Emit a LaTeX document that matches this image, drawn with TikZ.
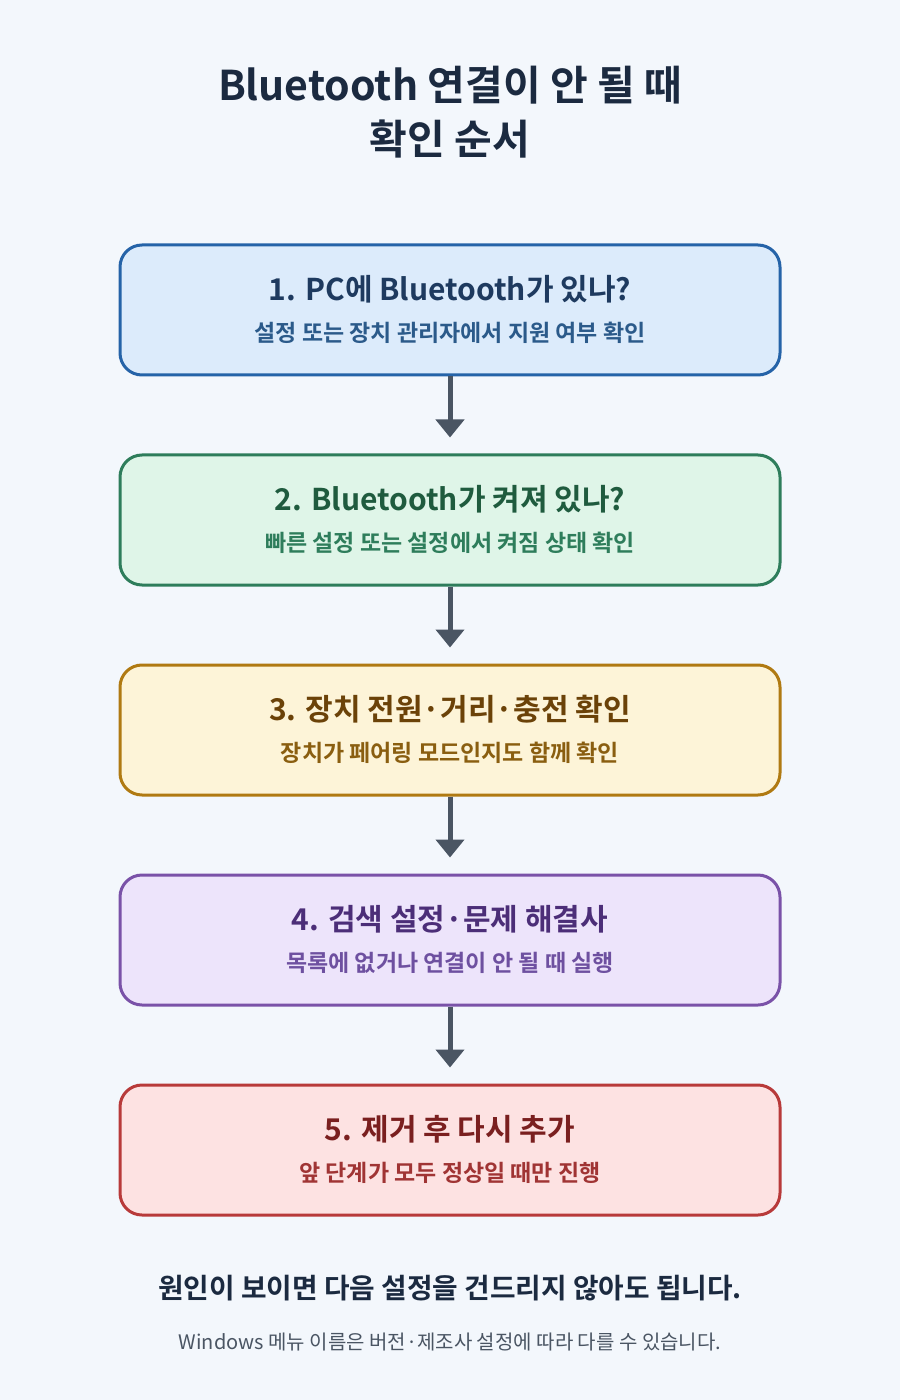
\documentclass[tikz,border=0pt]{standalone}
\usepackage{fontspec}
\setmainfont{Noto Sans CJK KR}[BoldFont={Noto Sans CJK KR Bold}]
\usetikzlibrary{arrows.meta}
\definecolor{bg}{HTML}{F3F7FC}
\definecolor{ttl}{HTML}{1B2A40}
\definecolor{arr}{HTML}{4A5563}
\definecolor{fa}{HTML}{DCEBFB}\definecolor{ba}{HTML}{2563A8}\definecolor{ta}{HTML}{1E3A5F}\definecolor{sa}{HTML}{2B5A8A}
\definecolor{fb}{HTML}{DFF5E8}\definecolor{bb}{HTML}{2E7D5B}\definecolor{tb}{HTML}{1F5B3E}\definecolor{sb}{HTML}{2E7D5B}
\definecolor{fc}{HTML}{FDF4D8}\definecolor{bc}{HTML}{B07A12}\definecolor{tc}{HTML}{6B4208}\definecolor{sc}{HTML}{8A5E10}
\definecolor{fd}{HTML}{EDE4FB}\definecolor{bd}{HTML}{7A52A8}\definecolor{td}{HTML}{4C2E78}\definecolor{sd}{HTML}{6E50A0}
\definecolor{fe}{HTML}{FDE2E2}\definecolor{be}{HTML}{B83A3A}\definecolor{te}{HTML}{7A1F1F}\definecolor{se}{HTML}{A03434}
\begin{document}
\begin{tikzpicture}[x=0.5pt,y=-0.5pt,
  box/.style={draw, line width=1.5pt, rounded corners=11pt, minimum width=330pt, minimum height=65pt},
  ttxt/.style={font=\bfseries\fontsize{15}{17}\selectfont},
  stxt/.style={font=\bfseries\fontsize{11.5}{13}\selectfont},
  link/.style={draw=arr, line width=2.5pt, shorten >=8pt, -{Triangle[length=9pt,width=14pt]}}]
\fill[bg] (0,0) rectangle (900,1400);
\node[ttl, font=\bfseries\fontsize{20.5}{27}\selectfont, align=center] (title) at (450,112) {Bluetooth 연결이 안 될 때\\확인 순서};
\foreach \i/\y/\f/\b/\t/\s/\T/\S in {
 a/310/fa/ba/ta/sa/{1. PC에 Bluetooth가 있나?}/{설정 또는 장치 관리자에서 지원 여부 확인},
 b/520/fb/bb/tb/sb/{2. Bluetooth가 켜져 있나?}/{빠른 설정 또는 설정에서 켜짐 상태 확인},
 c/730/fc/bc/tc/sc/{3. 장치 전원·거리·충전 확인}/{장치가 페어링 모드인지도 함께 확인},
 d/940/fd/bd/td/sd/{4. 검색 설정·문제 해결사}/{목록에 없거나 연결이 안 될 때 실행},
 e/1150/fe/be/te/se/{5. 제거 후 다시 추가}/{앞 단계가 모두 정상일 때만 진행}}{
 \node[box, fill=\f, draw=\b] (box\i) at (450,\y) {};
 \node[ttxt, text=\t] (t\i) at (450,\y-21) {\T};
 \node[stxt, text=\s] (s\i) at (450,\y+23) {\S};
}
\foreach \p/\q in {a/b,b/c,c/d,d/e}{\draw[link] (box\p.south) -- (box\q.north);}
\node[ttl, font=\bfseries\fontsize{13.9}{16}\selectfont] (note) at (450,1288) {원인이 보이면 다음 설정을 건드리지 않아도 됩니다.};
\node[text=arr, font=\fontsize{10}{12}\selectfont] (foot) at (450,1342) {Windows 메뉴 이름은 버전·제조사 설정에 따라 다를 수 있습니다.};
\end{tikzpicture}
\end{document}
